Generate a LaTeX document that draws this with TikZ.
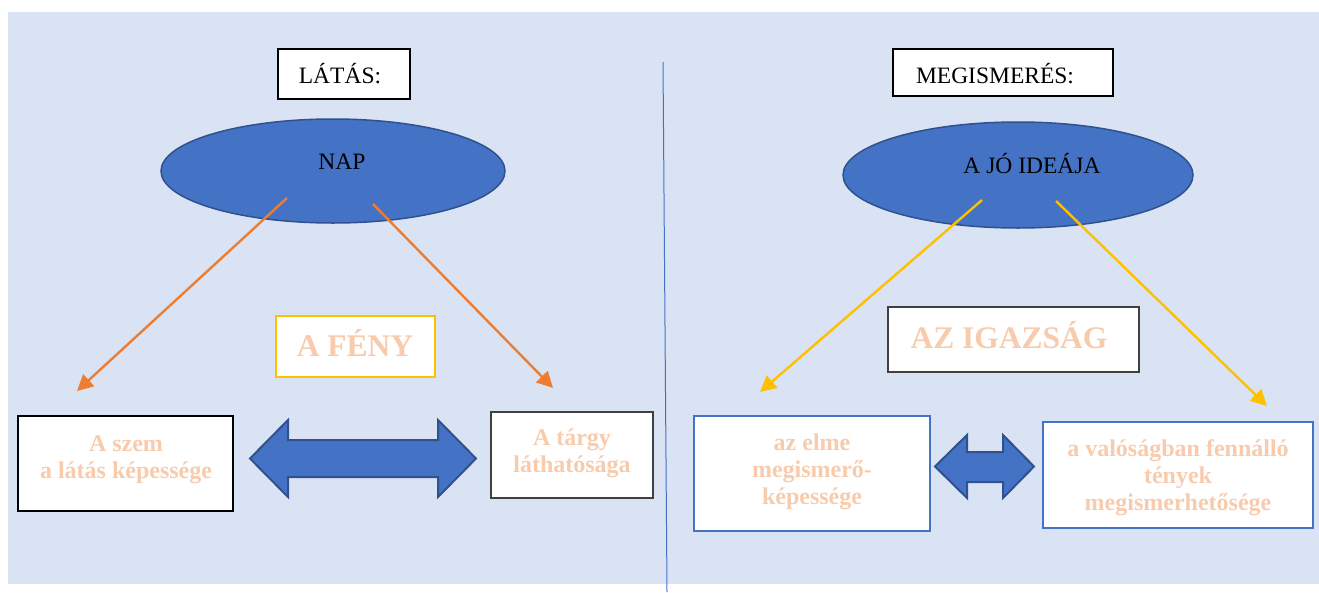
\documentclass[tikz,border=0pt]{standalone}
\usepackage{fontspec}
\setmainfont{Liberation Serif}
\usetikzlibrary{arrows.meta,shapes.geometric}
\definecolor{bgblue}{HTML}{DAE3F3}
\definecolor{accblue}{HTML}{4472C4}
\definecolor{darkblue}{HTML}{2F528F}
\definecolor{accorange}{HTML}{ED7D31}
\definecolor{accgold}{HTML}{FFC000}
\definecolor{peach}{HTML}{F8CBAD}
\definecolor{darkgray}{HTML}{404040}
\tikzset{
  titlebox/.style={draw=black, line width=2pt, fill=white, inner sep=0pt},
  plainbox/.style={fill=white, inner sep=0pt},
  sunshape/.style={ellipse, fill=accblue, draw=darkblue, line width=1.5pt, inner sep=0pt},
  normtext/.style={font=\fontsize{23.5}{27}\selectfont, text=black, inner sep=0pt, anchor=base},
  peachtext/.style={font=\fontsize{24}{27}\selectfont\bfseries, text=peach, inner sep=0pt, anchor=base},
  bigpeach/.style={font=\fontsize{31.5}{34}\selectfont\bfseries, text=peach, inner sep=0pt, anchor=base},
  orangearrow/.style={draw=accorange, line width=2.4pt, -{Triangle[length=16pt,width=16pt]}},
  goldarrow/.style={draw=accgold, line width=2.4pt, -{Triangle[length=16pt,width=16pt]}},
  dblarrow/.style={fill=accblue, draw=darkblue, line width=2pt, line join=miter},
}
\begin{document}
\begin{tikzpicture}[x=1pt,y=-1pt]
\useasboundingbox (0,0) rectangle (1319,592);
% background
\fill[bgblue] (8,12) rectangle (1319,584);
% divider
\coordinate (divtop) at (663,62);
\coordinate (divbot) at (667,592);
\draw[accblue, line width=1pt] (divtop) -- (divbot);

% ---------- left side ----------
\node[titlebox, minimum width=132pt, minimum height=50pt] (latasbox) at (344,74) {};
\node[normtext] (latas) at (340,83) {LÁTÁS:};

\node[sunshape, minimum width=344pt, minimum height=104pt] (nap) at (333,171) {};
\node[normtext] (naptext) at (342,169) {NAP};

\node[plainbox, draw=accgold, line width=1.2pt, minimum width=159pt, minimum height=61pt] (fenybox) at (355.5,346.5) {};
\node[bigpeach] (feny) at (355,356) {A FÉNY};

\node[plainbox, draw=black, line width=1.5pt, minimum width=215pt, minimum height=95pt] (szembox) at (125.5,463.5) {};
\node[peachtext] (szem) at (126,451) {\begin{tabular}[t]{@{}c@{}}A szem\\a látás képessége\end{tabular}};

\node[plainbox, draw=darkgray, line width=2pt, minimum width=162pt, minimum height=86pt] (targybox) at (572,455) {};
\node[peachtext] (targy) at (572,445) {\begin{tabular}[t]{@{}c@{}}A tárgy\\láthatósága\end{tabular}};

\coordinate (napL) at (287,198);
\coordinate (napR) at (373,204);
\coordinate (szemtip) at (77,391);
\coordinate (targytip) at (553,388);
\draw[orangearrow] (napL) -- (szemtip);
\draw[orangearrow] (napR) -- (targytip);

\path[dblarrow] (250,458.5) -- (288,420) -- (288,440) -- (438,440) -- (438,420) -- (476,458.5)
  -- (438,497) -- (438,477) -- (288,477) -- (288,497) -- cycle;

% ---------- right side ----------
\node[titlebox, minimum width=220pt, minimum height=47pt] (megbox) at (1002.5,72.5) {};
\node[normtext] (meg) at (995,83) {MEGISMERÉS:};

\node[sunshape, minimum width=350pt, minimum height=106pt] (jo) at (1018,175) {};
\node[normtext] (jotext) at (1032,173) {A JÓ IDEÁJA};

\node[plainbox, draw=darkgray, line width=2pt, minimum width=251pt, minimum height=65pt] (igazbox) at (1013.5,339.5) {};
\node[bigpeach] (igaz) at (1009,348) {AZ IGAZSÁG};

\node[plainbox, draw=accblue, line width=2.5pt, minimum width=236pt, minimum height=115pt] (elmebox) at (812,473.5) {};
\node[peachtext] (elme) at (812,450) {\begin{tabular}[t]{@{}c@{}}az elme\\megismerő-\\képessége\end{tabular}};

\node[plainbox, draw=accblue, line width=2.5pt, minimum width=270pt, minimum height=106pt] (valbox) at (1178,475) {};
\node[peachtext] (val) at (1178,456) {\begin{tabular}[t]{@{}c@{}}a valóságban fennálló\\tények\\megismerhetősége\end{tabular}};

\coordinate (joL) at (982,200);
\coordinate (joR) at (1056,201);
\coordinate (elmetip) at (760,392);
\coordinate (valtip) at (1267,406);
\draw[goldarrow] (joL) -- (elmetip);
\draw[goldarrow] (joR) -- (valtip);

\path[dblarrow] (935,466.5) -- (967,435) -- (967,452) -- (1003,452) -- (1003,435) -- (1034,466.5)
  -- (1003,498) -- (1003,482) -- (967,482) -- (967,498) -- cycle;
\end{tikzpicture}
\end{document}
